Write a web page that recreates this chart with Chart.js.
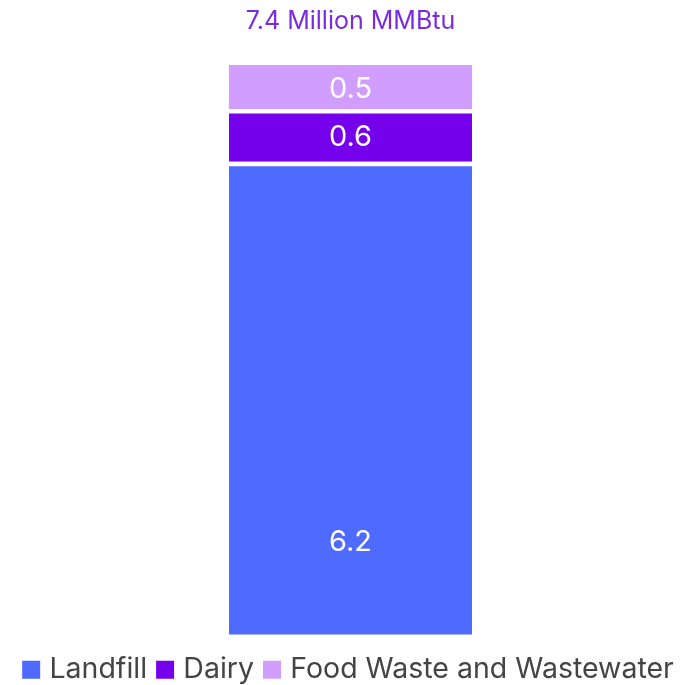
<!DOCTYPE html>
<html>
<head>
<meta charset="utf-8">
<script src="https://cdn.jsdelivr.net/npm/chart.js@4.4.1/dist/chart.umd.min.js"></script>
<style>
  html, body { margin: 0; padding: 0; background: #fff; }
  #wrap { width: 692px; height: 685px; }
</style>
</head>
<body>
<div id="wrap"><canvas id="graficaRng"></canvas></div>
<script>
const categorias = ['Total'];
const series = ['Landfill', 'Dairy', 'Food Waste and Wastewater'];
const landfill = [6.2];
const dairy = [0.6];
const foodWaste = [0.5];
const titulo = '7.4 Million MMBtu';

const colores = ['#4f6bff', '#7500ec', '#d19eff'];
// where the value label sits inside the visible part of each segment (0 = top, 1 = bottom)
const posEtiqueta = [0.8, 0.5, 0.5];

const etiquetasValor = {
    id: 'etiquetasValor',
    afterDatasetsDraw(chart) {
        const { ctx, chartArea } = chart;
        ctx.save();
        ctx.fillStyle = '#ffffff';
        ctx.font = '29px Inter, "Noto Sans", sans-serif';
        ctx.textAlign = 'center';
        ctx.textBaseline = 'middle';
        chart.data.datasets.forEach((ds, i) => {
            chart.getDatasetMeta(i).data.forEach((bar, j) => {
                const top = Math.max(Math.min(bar.y, bar.base), chartArea.top);
                const bottom = Math.min(Math.max(bar.y, bar.base), chartArea.bottom);
                ctx.fillText(ds.data[j].toFixed(1), bar.x, top + (bottom - top) * posEtiqueta[i] + 2);
            });
        });
        ctx.restore();
    }
};

// keep the bar bottom where it is and push the legend text down a bit
const ajusteLeyenda = {
    id: 'ajusteLeyenda',
    beforeInit(chart) {
        const leyenda = chart.legend;
        if (!leyenda) return;
        const fit = leyenda.fit;
        leyenda.fit = function () { fit.call(this); this.height -= 2; };
        const draw = leyenda.draw;
        leyenda.draw = function () {
            this.ctx.save();
            this.ctx.translate(0, 7);
            draw.call(this);
            this.ctx.restore();
        };
    }
};

function initGrafica() {
    const ctx = document.getElementById('graficaRng');
    const valores = [landfill, dairy, foodWaste];

    new Chart(ctx, {
        type: 'bar',
        data: {
            labels: categorias,
            datasets: series.map((nombre, i) => ({
                label: nombre,
                data: valores[i],
                backgroundColor: colores[i],
                borderColor: '#ffffff',
                borderWidth: i < 2 ? { top: 4.5, left: 0, right: 0, bottom: 0 } : 0,
                borderSkipped: false,
                barPercentage: 0.356,
                categoryPercentage: 1
            }))
        },
        options: {
            responsive: true,
            maintainAspectRatio: false,
            animation: false,
            layout: { padding: { left: 9, right: 0, top: 0, bottom: 0 } },
            scales: {
                x: { stacked: true, display: false },
                y: { stacked: true, display: false, min: 0.83, max: 7.3 }
            },
            plugins: {
                tooltip: { enabled: false },
                title: {
                    display: true,
                    text: titulo,
                    color: '#7a2be2',
                    font: { family: 'Inter', size: 25, weight: 'normal' },
                    padding: { top: 6, bottom: 29 }
                },
                legend: {
                    position: 'bottom',
                    labels: {
                        color: '#444444',
                        font: { family: 'Inter', size: 28.5 },
                        usePointStyle: true,
                        pointStyle: 'rect',
                        boxWidth: 8,
                        boxHeight: 18,
                        padding: 14,
                        generateLabels(chart) {
                            return Chart.defaults.plugins.legend.labels.generateLabels(chart)
                                .map(l => ({ ...l, lineWidth: 0 }));
                        }
                    }
                }
            }
        },
        plugins: [etiquetasValor, ajusteLeyenda]
    });
}

initGrafica();
</script>
</body>
</html>
